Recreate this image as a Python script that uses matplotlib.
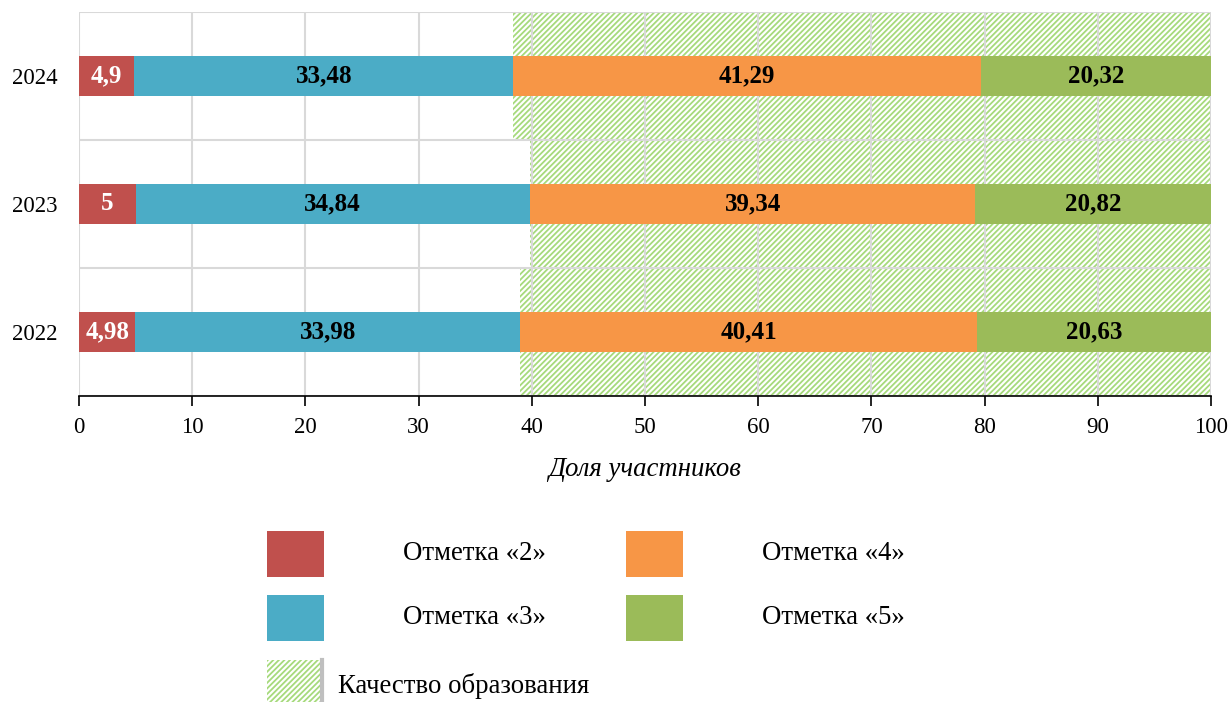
import matplotlib
matplotlib.use("Agg")
import matplotlib.pyplot as plt
from matplotlib.patches import Rectangle
from matplotlib.lines import Line2D

plt.rcParams['font.family'] = ['Liberation Serif', 'DejaVu Serif']
plt.rcParams['hatch.linewidth'] = 1.3

# Share of participants by grade, per year
years = ['2022', '2023', '2024']
grade2 = [4.98, 5, 4.9]
grade3 = [33.98, 34.84, 33.48]
grade4 = [40.41, 39.34, 41.29]
grade5 = [20.63, 20.82, 20.32]

series = [grade2, grade3, grade4, grade5]
colors = ['#C0504D', '#4BACC6', '#F79646', '#9BBB59']
text_colors = ['white', 'black', 'black', 'black']
legend_labels = ['Отметка «2»', 'Отметка «3»', 'Отметка «4»', 'Отметка «5»']
quality_label = 'Качество образования'
hatch_color = '#A6DA7C'
hatch = '//////'
xlabel = 'Доля участников'

W, H = 1232, 702
fig = plt.figure(figsize=(W / 100, H / 100), dpi=100)
ax = fig.add_axes([79 / W, 1 - 396 / H, (1211 - 79) / W, (396 - 12) / H])

ypos = list(range(len(years)))

# Quality of education: grades 4 and 5 together, drawn as a hatched band
quality_left = [a + b for a, b in zip(grade2, grade3)]
quality_width = [a + b for a, b in zip(grade4, grade5)]
ax.barh(ypos, quality_width, left=quality_left, height=1.0, color='white',
        edgecolor=hatch_color, linewidth=0, hatch=hatch, zorder=0.3)

bar_h = 0.3125
left = [0.0] * len(years)
for vals, col, tcol in zip(series, colors, text_colors):
    ax.barh(ypos, vals, left=left, height=bar_h, color=col, zorder=2)
    for y, l, v in zip(ypos, left, vals):
        ax.text(l + v / 2, y, f"{v:g}".replace('.', ','), ha='center', va='center',
                color=tcol, fontsize=18, fontweight='bold', zorder=3)
    left = [l + v for l, v in zip(left, vals)]

ax.set_xlim(0, 100)
ax.set_ylim(-0.5, len(years) - 0.5)
ax.set_xticks(range(0, 101, 10))
ax.set_yticks(ypos)
ax.set_yticklabels(years)
ax.set_yticks([y - 0.5 for y in range(len(years) + 1)], minor=True)
ax.set_axisbelow(True)
ax.grid(axis='x', which='major', color='#D9D9D9', linewidth=1.5)
ax.grid(axis='y', which='minor', color='#D9D9D9', linewidth=1.5)
for s in ['left', 'right', 'top']:
    ax.spines[s].set_visible(False)
ax.spines['bottom'].set_color('black')
ax.spines['bottom'].set_linewidth(1.2)
ax.tick_params(axis='x', direction='out', length=7, width=1.2, labelsize=16.5, pad=8)
ax.tick_params(axis='y', which='both', length=0, labelsize=16.5, pad=15.5)
ax.set_xlabel(xlabel, fontsize=19.3, style='italic', labelpad=14)

# Legend, drawn in pixel coordinates of the figure
def fx(px):
    return px / W

def fy(py):
    return 1 - py / H

legend_pos = [(267, 531, 403), (267, 595, 403), (626, 531, 762), (626, 595, 762)]
for (px, py, tx), col, lab in zip(legend_pos, colors, legend_labels):
    fig.add_artist(Rectangle((fx(px), fy(py + 46)), 57 / W, 46 / H,
                             transform=fig.transFigure, color=col, linewidth=0))
    fig.text(fx(tx), fy(py + 23), lab, fontsize=19.3, va='center', ha='left')

fig.add_artist(Rectangle((fx(267), fy(704)), 53 / W, 44 / H, transform=fig.transFigure,
                         facecolor='white', edgecolor=hatch_color, linewidth=0, hatch=hatch))
fig.add_artist(Line2D([fx(322), fx(322)], [fy(660), fy(704)], transform=fig.transFigure,
                      color='#BFBFBF', linewidth=3))
fig.text(fx(338), fy(686), quality_label, fontsize=19.3, va='center', ha='left')

fig.savefig('out.png', dpi=100)
